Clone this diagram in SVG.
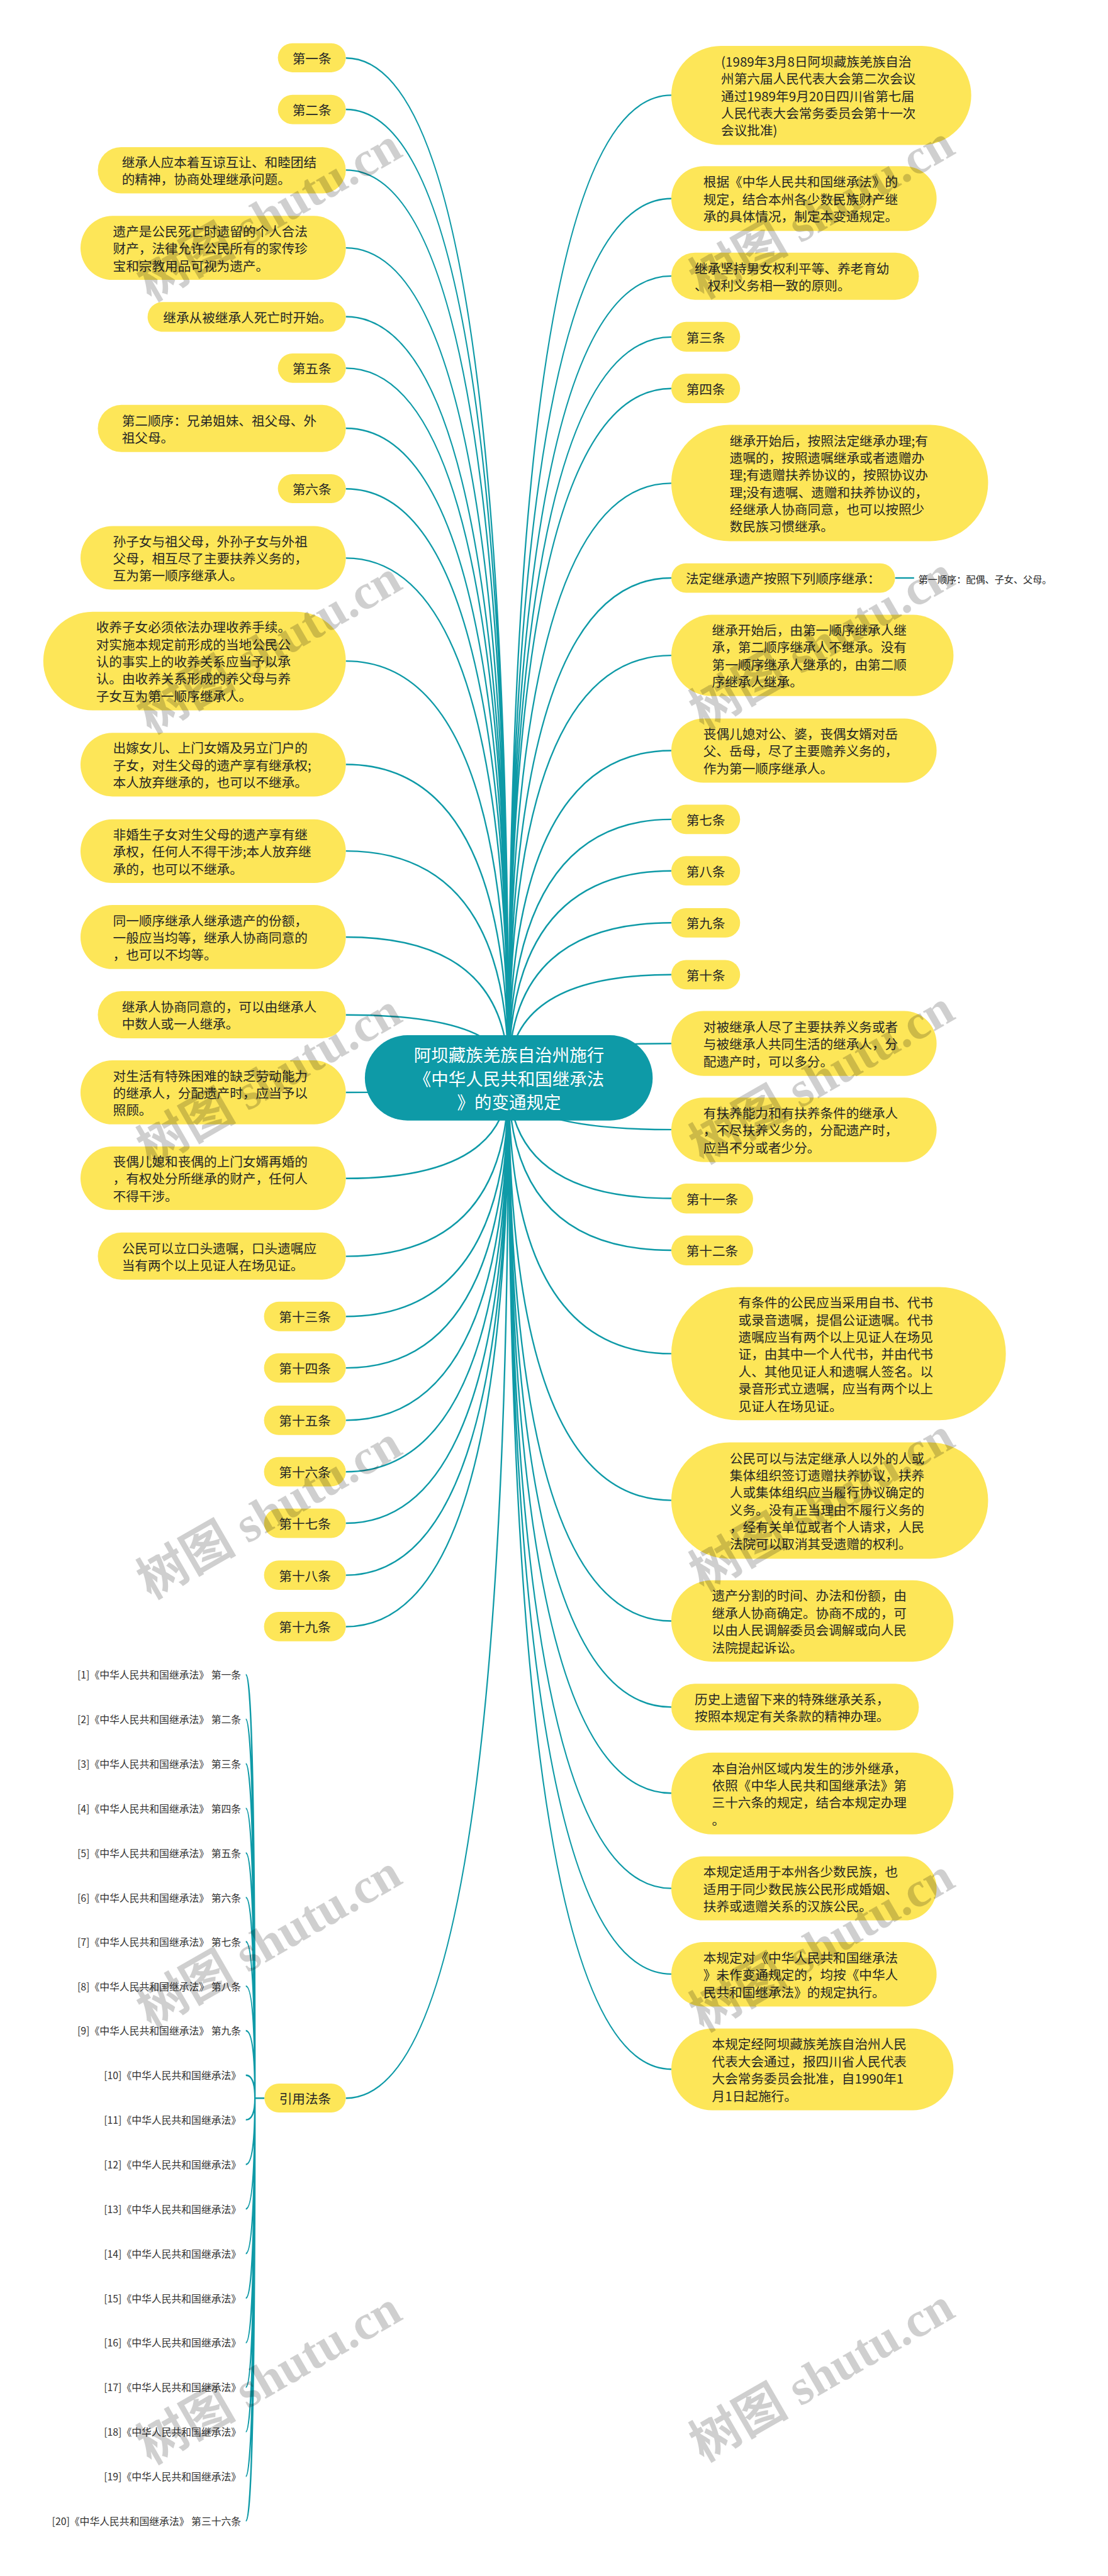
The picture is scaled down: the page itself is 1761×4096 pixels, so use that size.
<svg xmlns="http://www.w3.org/2000/svg" width="1761" height="4096" viewBox="0 0 1761 4096">
<style>
.p{fill:#FDE658}
.t{font-family:'Noto Sans CJK SC','Liberation Sans',sans-serif;font-size:30px;fill:#262626;dominant-baseline:central}
.m{text-anchor:middle}
.c{fill:none;stroke:#0E9AA7;stroke-width:3.5}
.r{font-family:'Noto Sans CJK SC','Liberation Sans',sans-serif;font-size:23px;fill:#333;dominant-baseline:central;text-anchor:end}
.w{font-family:'Liberation Serif','Noto Sans CJK SC',serif;font-size:115px;font-weight:bold;fill:#000;fill-opacity:0.19}
</style>
<rect width="1761" height="4096" fill="#fff"/>
<g transform="scale(0.68789)">
<g id="connectors">
<path class="c" d="M799 134Q1175 134 1175 2491M799 253Q1175 253 1175 2491M799 393Q1175 393 1175 2491M799 573Q1175 573 1175 2491M799 732Q1175 732 1175 2491M799 851Q1175 851 1175 2491M799 990Q1175 990 1175 2491M799 1130Q1175 1130 1175 2491M799 1290Q1175 1290 1175 2491M799 1528Q1175 1528 1175 2491M799 1767Q1175 1767 1175 2491M799 1967Q1175 1967 1175 2491M799 2166Q1175 2166 1175 2491M799 2346Q1175 2346 1175 2491M799 2525Q1175 2525 1175 2491M799 2724Q1175 2724 1175 2491M799 2904Q1175 2904 1175 2491M799 3043Q1175 3043 1175 2491M799 3162Q1175 3162 1175 2491M799 3283Q1175 3283 1175 2491M799 3402Q1175 3402 1175 2491M799 3521Q1175 3521 1175 2491M799 3641Q1175 3641 1175 2491M799 3760Q1175 3760 1175 2491M799 4850Q1175 4850 1175 2491"/>
<path class="c" d="M1551 220Q1175 220 1175 2491M1551 459Q1175 459 1175 2491M1551 638Q1175 638 1175 2491M1551 779Q1175 779 1175 2491M1551 898Q1175 898 1175 2491M1551 1117Q1175 1117 1175 2491M1551 1336Q1175 1336 1175 2491M1551 1515Q1175 1515 1175 2491M1551 1735Q1175 1735 1175 2491M1551 1894Q1175 1894 1175 2491M1551 2013Q1175 2013 1175 2491M1551 2133Q1175 2133 1175 2491M1551 2253Q1175 2253 1175 2491M1551 2412Q1175 2412 1175 2491M1551 2611Q1175 2611 1175 2491M1551 2770Q1175 2770 1175 2491M1551 2890Q1175 2890 1175 2491M1551 3129Q1175 3129 1175 2491M1551 3468Q1175 3468 1175 2491M1551 3747Q1175 3747 1175 2491M1551 3946Q1175 3946 1175 2491M1551 4145Q1175 4145 1175 2491M1551 4365Q1175 4365 1175 2491M1551 4563Q1175 4563 1175 2491M1551 4783Q1175 4783 1175 2491"/>
<path class="c" d="M2068 1336L2112 1336"/>
<path class="c" d="M611 4850L589 4850M568 3871Q589 3871 589 4850M568 3974Q589 3974 589 4850M568 4077Q589 4077 589 4850M568 4180Q589 4180 589 4850M568 4283Q589 4283 589 4850M568 4386Q589 4386 589 4850M568 4488Q589 4488 589 4850M568 4591Q589 4591 589 4850M568 4694Q589 4694 589 4850M568 4797Q589 4797 589 4850M568 4900Q589 4900 589 4850M568 5003Q589 5003 589 4850M568 5106Q589 5106 589 4850M568 5209Q589 5209 589 4850M568 5312Q589 5312 589 4850M568 5415Q589 5415 589 4850M568 5518Q589 5518 589 4850M568 5621Q589 5621 589 4850M568 5724Q589 5724 589 4850M568 5827Q589 5827 589 4850"/>
</g>
<g id="root"><rect x="843" y="2393" width="665" height="197" rx="98.5" fill="#0E9AA7"/>
<text class="t m" style="font-size:40px;fill:#fff" x="1176"><tspan x="1176" y="2437">阿坝藏族羌族自治州施行</tspan><tspan x="1176" y="2491.5">《中华人民共和国继承法</tspan><tspan x="1176" y="2546">》的变通规定</tspan></text></g>
<g id="l1"><rect class="p" x="642" y="100" width="157" height="67" rx="33.5"/><text class="t m" x="720.5" y="133.5">第一条</text></g>
<g id="l2"><rect class="p" x="642" y="219" width="157" height="68" rx="34"/><text class="t m" x="720.5" y="253">第二条</text></g>
<g id="l3"><rect class="p" x="226" y="340" width="573" height="107" rx="53.5"/><text class="t"><tspan x="281.5" y="373.6">继承人应本着互谅互让、和睦团结</tspan><tspan x="281.5" y="413.4">的精神，协商处理继承问题。</tspan></text></g>
<g id="l4"><rect class="p" x="186" y="499" width="613" height="148" rx="74"/><text class="t"><tspan x="261" y="533.2">遗产是公民死亡时遗留的个人合法</tspan><tspan x="261" y="573">财产，法律允许公民所有的家传珍</tspan><tspan x="261" y="612.8">宝和宗教用品可视为遗产。</tspan></text></g>
<g id="l5"><rect class="p" x="341" y="698" width="458" height="69" rx="34.5"/><text class="t" x="377" y="732.5">继承从被继承人死亡时开始。</text></g>
<g id="l6"><rect class="p" x="642" y="817" width="157" height="68" rx="34"/><text class="t m" x="720.5" y="851">第五条</text></g>
<g id="l7"><rect class="p" x="226" y="936" width="573" height="109" rx="54.5"/><text class="t"><tspan x="281.5" y="970.6">第二顺序：兄弟姐妹、祖父母、外</tspan><tspan x="281.5" y="1010.4">祖父母。</tspan></text></g>
<g id="l8"><rect class="p" x="642" y="1096" width="157" height="67" rx="33.5"/><text class="t m" x="720.5" y="1129.5">第六条</text></g>
<g id="l9"><rect class="p" x="186" y="1216" width="613" height="147" rx="73.5"/><text class="t"><tspan x="261" y="1249.7">孙子女与祖父母，外孙子女与外祖</tspan><tspan x="261" y="1289.5">父母，相互尽了主要扶养义务的，</tspan><tspan x="261" y="1329.3">互为第一顺序继承人。</tspan></text></g>
<g id="l10"><rect class="p" x="100" y="1414" width="699" height="228" rx="114"/><text class="t"><tspan x="222" y="1448.4">收养子女必须依法办理收养手续。</tspan><tspan x="222" y="1488.2">对实施本规定前形成的当地公民公</tspan><tspan x="222" y="1528">认的事实上的收养关系应当予以承</tspan><tspan x="222" y="1567.8">认。由收养关系形成的养父母与养</tspan><tspan x="222" y="1607.6">子女互为第一顺序继承人。</tspan></text></g>
<g id="l11"><rect class="p" x="186" y="1694" width="613" height="147" rx="73.5"/><text class="t"><tspan x="261" y="1727.7">出嫁女儿、上门女婿及另立门户的</tspan><tspan x="261" y="1767.5">子女，对生父母的遗产享有继承权;</tspan><tspan x="261" y="1807.3">本人放弃继承的，也可以不继承。</tspan></text></g>
<g id="l12"><rect class="p" x="186" y="1894" width="613" height="147" rx="73.5"/><text class="t"><tspan x="261" y="1927.7">非婚生子女对生父母的遗产享有继</tspan><tspan x="261" y="1967.5">承权，任何人不得干涉;本人放弃继</tspan><tspan x="261" y="2007.3">承的，也可以不继承。</tspan></text></g>
<g id="l13"><rect class="p" x="186" y="2092" width="613" height="148" rx="74"/><text class="t"><tspan x="261" y="2126.2">同一顺序继承人继承遗产的份额，</tspan><tspan x="261" y="2166">一般应当均等，继承人协商同意的</tspan><tspan x="261" y="2205.8">，也可以不均等。</tspan></text></g>
<g id="l14"><rect class="p" x="226" y="2291" width="573" height="109" rx="54.5"/><text class="t"><tspan x="281.5" y="2325.6">继承人协商同意的，可以由继承人</tspan><tspan x="281.5" y="2365.4">中数人或一人继承。</tspan></text></g>
<g id="l15"><rect class="p" x="186" y="2451" width="613" height="148" rx="74"/><text class="t"><tspan x="261" y="2485.2">对生活有特殊困难的缺乏劳动能力</tspan><tspan x="261" y="2525">的继承人，分配遗产时，应当予以</tspan><tspan x="261" y="2564.8">照顾。</tspan></text></g>
<g id="l16"><rect class="p" x="186" y="2650" width="613" height="147" rx="73.5"/><text class="t"><tspan x="261" y="2683.7">丧偶儿媳和丧偶的上门女婿再婚的</tspan><tspan x="261" y="2723.5">，有权处分所继承的财产，任何人</tspan><tspan x="261" y="2763.3">不得干涉。</tspan></text></g>
<g id="l17"><rect class="p" x="226" y="2849" width="573" height="109" rx="54.5"/><text class="t"><tspan x="281.5" y="2883.6">公民可以立口头遗嘱，口头遗嘱应</tspan><tspan x="281.5" y="2923.4">当有两个以上见证人在场见证。</tspan></text></g>
<g id="l18"><rect class="p" x="610" y="3009" width="189" height="68" rx="34"/><text class="t m" x="704.5" y="3043">第十三条</text></g>
<g id="l19"><rect class="p" x="610" y="3128" width="189" height="68" rx="34"/><text class="t m" x="704.5" y="3162">第十四条</text></g>
<g id="l20"><rect class="p" x="610" y="3249" width="189" height="68" rx="34"/><text class="t m" x="704.5" y="3283">第十五条</text></g>
<g id="l21"><rect class="p" x="610" y="3368" width="189" height="68" rx="34"/><text class="t m" x="704.5" y="3402">第十六条</text></g>
<g id="l22"><rect class="p" x="610" y="3487" width="189" height="68" rx="34"/><text class="t m" x="704.5" y="3521">第十七条</text></g>
<g id="l23"><rect class="p" x="610" y="3607" width="189" height="68" rx="34"/><text class="t m" x="704.5" y="3641">第十八条</text></g>
<g id="l24"><rect class="p" x="610" y="3726" width="189" height="68" rx="34"/><text class="t m" x="704.5" y="3760">第十九条</text></g>
<g id="l25"><rect class="p" x="611" y="4816" width="188" height="67" rx="33.5"/><text class="t m" x="705" y="4849.5">引用法条</text></g>
<g id="refs">
<text class="r" x="557" y="3871">[1]《中华人民共和国继承法》 第一条</text>
<text class="r" x="557" y="3974">[2]《中华人民共和国继承法》 第二条</text>
<text class="r" x="557" y="4077">[3]《中华人民共和国继承法》 第三条</text>
<text class="r" x="557" y="4180">[4]《中华人民共和国继承法》 第四条</text>
<text class="r" x="557" y="4283">[5]《中华人民共和国继承法》 第五条</text>
<text class="r" x="557" y="4386">[6]《中华人民共和国继承法》 第六条</text>
<text class="r" x="557" y="4488">[7]《中华人民共和国继承法》 第七条</text>
<text class="r" x="557" y="4591">[8]《中华人民共和国继承法》 第八条</text>
<text class="r" x="557" y="4694">[9]《中华人民共和国继承法》 第九条</text>
<text class="r" x="557" y="4797">[10]《中华人民共和国继承法》</text>
<text class="r" x="557" y="4900">[11]《中华人民共和国继承法》</text>
<text class="r" x="557" y="5003">[12]《中华人民共和国继承法》</text>
<text class="r" x="557" y="5106">[13]《中华人民共和国继承法》</text>
<text class="r" x="557" y="5209">[14]《中华人民共和国继承法》</text>
<text class="r" x="557" y="5312">[15]《中华人民共和国继承法》</text>
<text class="r" x="557" y="5415">[16]《中华人民共和国继承法》</text>
<text class="r" x="557" y="5518">[17]《中华人民共和国继承法》</text>
<text class="r" x="557" y="5621">[18]《中华人民共和国继承法》</text>
<text class="r" x="557" y="5724">[19]《中华人民共和国继承法》</text>
<text class="r" x="557" y="5827">[20]《中华人民共和国继承法》 第三十六条</text>
</g>
<g id="r1"><rect class="p" x="1551" y="106" width="693" height="229" rx="114.5"/><text class="t"><tspan x="1666" y="140.9">(1989年3月8日阿坝藏族羌族自治</tspan><tspan x="1666" y="180.7">州第六届人民代表大会第二次会议</tspan><tspan x="1666" y="220.5">通过1989年9月20日四川省第七届</tspan><tspan x="1666" y="260.3">人民代表大会常务委员会第十一次</tspan><tspan x="1666" y="300.1">会议批准)</tspan></text></g>
<g id="r2"><rect class="p" x="1551" y="384" width="613" height="150" rx="75"/><text class="t"><tspan x="1625" y="419.2">根据《中华人民共和国继承法》的</tspan><tspan x="1625" y="459">规定，结合本州各少数民族财产继</tspan><tspan x="1625" y="498.8">承的具体情况，制定本变通规定。</tspan></text></g>
<g id="r3"><rect class="p" x="1551" y="584" width="572" height="109" rx="54.5"/><text class="t"><tspan x="1605" y="618.6">继承坚持男女权利平等、养老育幼</tspan><tspan x="1605" y="658.4">、权利义务相一致的原则。</tspan></text></g>
<g id="r4"><rect class="p" x="1551" y="744" width="159" height="69" rx="34.5"/><text class="t m" x="1630.5" y="778.5">第三条</text></g>
<g id="r5"><rect class="p" x="1551" y="864" width="159" height="68" rx="34"/><text class="t m" x="1630.5" y="898">第四条</text></g>
<g id="r6"><rect class="p" x="1551" y="982" width="732" height="269" rx="134.5"/><text class="t"><tspan x="1686" y="1017">继承开始后，按照法定继承办理;有</tspan><tspan x="1686" y="1056.8">遗嘱的，按照遗嘱继承或者遗赠办</tspan><tspan x="1686" y="1096.6">理;有遗赠扶养协议的，按照协议办</tspan><tspan x="1686" y="1136.4">理;没有遗嘱、遗赠和扶养协议的，</tspan><tspan x="1686" y="1176.2">经继承人协商同意，也可以按照少</tspan><tspan x="1686" y="1216">数民族习惯继承。</tspan></text></g>
<g id="r7"><rect class="p" x="1551" y="1302" width="517" height="68" rx="34"/><text class="t" x="1584.5" y="1336">法定继承遗产按照下列顺序继承：</text></g>
<g id="r7c"><text class="t" style="font-size:22px" x="2122" y="1337">第一顺序：配偶、子女、父母。</text></g>
<g id="r8"><rect class="p" x="1551" y="1421" width="652" height="188" rx="94"/><text class="t"><tspan x="1645" y="1455.3">继承开始后，由第一顺序继承人继</tspan><tspan x="1645" y="1495.1">承，第二顺序继承人不继承。没有</tspan><tspan x="1645" y="1534.9">第一顺序继承人继承的，由第二顺</tspan><tspan x="1645" y="1574.7">序继承人继承。</tspan></text></g>
<g id="r9"><rect class="p" x="1551" y="1661" width="613" height="148" rx="74"/><text class="t"><tspan x="1625" y="1695.2">丧偶儿媳对公、婆，丧偶女婿对岳</tspan><tspan x="1625" y="1735">父、岳母，尽了主要赡养义务的，</tspan><tspan x="1625" y="1774.8">作为第一顺序继承人。</tspan></text></g>
<g id="r10"><rect class="p" x="1551" y="1860" width="159" height="68" rx="34"/><text class="t m" x="1630.5" y="1894">第七条</text></g>
<g id="r11"><rect class="p" x="1551" y="1979" width="159" height="68" rx="34"/><text class="t m" x="1630.5" y="2013">第八条</text></g>
<g id="r12"><rect class="p" x="1551" y="2099" width="159" height="68" rx="34"/><text class="t m" x="1630.5" y="2133">第九条</text></g>
<g id="r13"><rect class="p" x="1551" y="2219" width="159" height="68" rx="34"/><text class="t m" x="1630.5" y="2253">第十条</text></g>
<g id="r14"><rect class="p" x="1551" y="2337" width="613" height="150" rx="75"/><text class="t"><tspan x="1625" y="2372.2">对被继承人尽了主要扶养义务或者</tspan><tspan x="1625" y="2412">与被继承人共同生活的继承人，分</tspan><tspan x="1625" y="2451.8">配遗产时，可以多分。</tspan></text></g>
<g id="r15"><rect class="p" x="1551" y="2537" width="613" height="149" rx="74.5"/><text class="t"><tspan x="1625" y="2571.7">有扶养能力和有扶养条件的继承人</tspan><tspan x="1625" y="2611.5">，不尽扶养义务的，分配遗产时，</tspan><tspan x="1625" y="2651.3">应当不分或者少分。</tspan></text></g>
<g id="r16"><rect class="p" x="1551" y="2736" width="189" height="69" rx="34.5"/><text class="t m" x="1645.5" y="2770.5">第十一条</text></g>
<g id="r17"><rect class="p" x="1551" y="2856" width="189" height="69" rx="34.5"/><text class="t m" x="1645.5" y="2890.5">第十二条</text></g>
<g id="r18"><rect class="p" x="1551" y="2975" width="773" height="308" rx="154"/><text class="t"><tspan x="1706" y="3009.6">有条件的公民应当采用自书、代书</tspan><tspan x="1706" y="3049.4">或录音遗嘱，提倡公证遗嘱。代书</tspan><tspan x="1706" y="3089.2">遗嘱应当有两个以上见证人在场见</tspan><tspan x="1706" y="3129">证，由其中一个人代书，并由代书</tspan><tspan x="1706" y="3168.8">人、其他见证人和遗嘱人签名。以</tspan><tspan x="1706" y="3208.6">录音形式立遗嘱，应当有两个以上</tspan><tspan x="1706" y="3248.4">见证人在场见证。</tspan></text></g>
<g id="r19"><rect class="p" x="1551" y="3334" width="732" height="269" rx="134.5"/><text class="t"><tspan x="1686" y="3369">公民可以与法定继承人以外的人或</tspan><tspan x="1686" y="3408.8">集体组织签订遗赠扶养协议，扶养</tspan><tspan x="1686" y="3448.6">人或集体组织应当履行协议确定的</tspan><tspan x="1686" y="3488.4">义务。没有正当理由不履行义务的</tspan><tspan x="1686" y="3528.2">，经有关单位或者个人请求，人民</tspan><tspan x="1686" y="3568">法院可以取消其受遗赠的权利。</tspan></text></g>
<g id="r20"><rect class="p" x="1551" y="3653" width="652" height="188" rx="94"/><text class="t"><tspan x="1645" y="3687.3">遗产分割的时间、办法和份额，由</tspan><tspan x="1645" y="3727.1">继承人协商确定。协商不成的，可</tspan><tspan x="1645" y="3766.9">以由人民调解委员会调解或向人民</tspan><tspan x="1645" y="3806.7">法院提起诉讼。</tspan></text></g>
<g id="r21"><rect class="p" x="1551" y="3892" width="572" height="108" rx="54"/><text class="t"><tspan x="1605" y="3926.1">历史上遗留下来的特殊继承关系，</tspan><tspan x="1605" y="3965.9">按照本规定有关条款的精神办理。</tspan></text></g>
<g id="r22"><rect class="p" x="1551" y="4051" width="652" height="189" rx="94.5"/><text class="t"><tspan x="1645" y="4085.8">本自治州区域内发生的涉外继承，</tspan><tspan x="1645" y="4125.6">依照《中华人民共和国继承法》第</tspan><tspan x="1645" y="4165.4">三十六条的规定，结合本规定办理</tspan><tspan x="1645" y="4205.2">。</tspan></text></g>
<g id="r23"><rect class="p" x="1551" y="4291" width="613" height="148" rx="74"/><text class="t"><tspan x="1625" y="4325.2">本规定适用于本州各少数民族，也</tspan><tspan x="1625" y="4365">适用于同少数民族公民形成婚姻、</tspan><tspan x="1625" y="4404.8">扶养或遗赠关系的汉族公民。</tspan></text></g>
<g id="r24"><rect class="p" x="1551" y="4489" width="613" height="149" rx="74.5"/><text class="t"><tspan x="1625" y="4523.7">本规定对《中华人民共和国继承法</tspan><tspan x="1625" y="4563.5">》未作变通规定的，均按《中华人</tspan><tspan x="1625" y="4603.3">民共和国继承法》的规定执行。</tspan></text></g>
<g id="r25"><rect class="p" x="1551" y="4689" width="652" height="189" rx="94.5"/><text class="t"><tspan x="1645" y="4723.8">本规定经阿坝藏族羌族自治州人民</tspan><tspan x="1645" y="4763.6">代表大会通过，报四川省人民代表</tspan><tspan x="1645" y="4803.4">大会常务委员会批准，自1990年1</tspan><tspan x="1645" y="4843.2">月1日起施行。</tspan></text></g>
<g id="watermarks">
<text class="w" transform="translate(348 698) rotate(-30)">树图 shutu.cn</text>
<text class="w" transform="translate(348 1698) rotate(-30)">树图 shutu.cn</text>
<text class="w" transform="translate(348 2698) rotate(-30)">树图 shutu.cn</text>
<text class="w" transform="translate(348 3698) rotate(-30)">树图 shutu.cn</text>
<text class="w" transform="translate(348 4690) rotate(-30)">树图 shutu.cn</text>
<text class="w" transform="translate(348 5698) rotate(-30)">树图 shutu.cn</text>
<text class="w" transform="translate(1625 692) rotate(-30)">树图 shutu.cn</text>
<text class="w" transform="translate(1625 1688) rotate(-30)">树图 shutu.cn</text>
<text class="w" transform="translate(1625 2692) rotate(-30)">树图 shutu.cn</text>
<text class="w" transform="translate(1625 3680) rotate(-30)">树图 shutu.cn</text>
<text class="w" transform="translate(1625 4698) rotate(-30)">树图 shutu.cn</text>
<text class="w" transform="translate(1625 5692) rotate(-30)">树图 shutu.cn</text>
</g>
</g>
</svg>
